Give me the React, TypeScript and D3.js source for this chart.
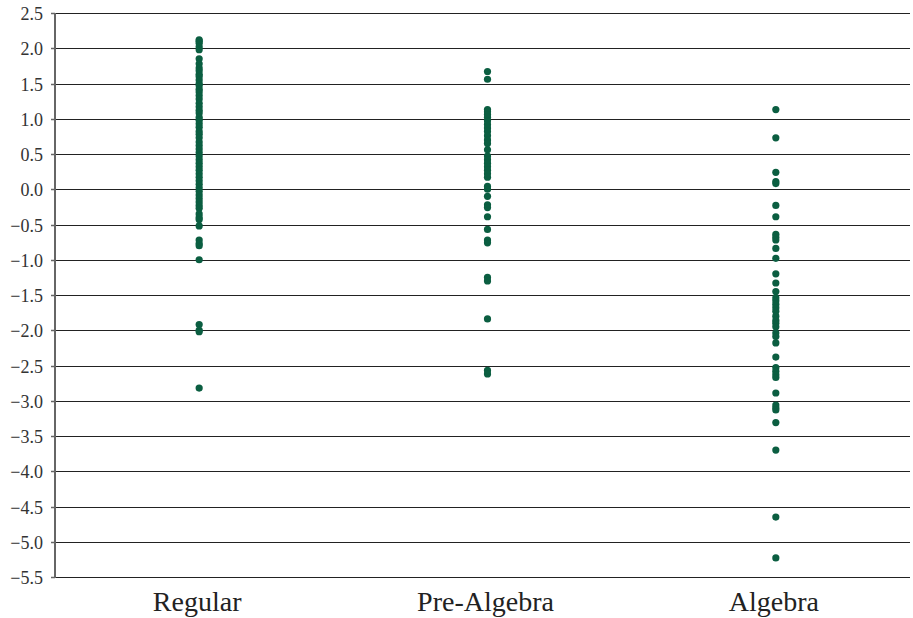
import React from 'react';
import * as d3 from 'd3';

const categories = ['Regular', 'Pre-Algebra', 'Algebra'];

const regular = [
  2.12, 2.1, 2.07, 2.02, 1.98, 1.85, 1.78, 1.72, 1.68, 1.63, 1.6, 1.55, 1.5, 1.47,
  1.42, 1.38, 1.33, 1.28, 1.22, 1.17, 1.12, 1.08, 1.02, 0.98, 0.93, 0.88, 0.82,
  0.78, 0.73, 0.67, 0.62, 0.57, 0.52, 0.47, 0.42, 0.37, 0.32, 0.27, 0.22, 0.17,
  0.12, 0.07, 0.02, -0.03, -0.08, -0.13, -0.18, -0.23, -0.27, -0.35, -0.4, -0.43,
  -0.52, -0.72, -0.77, -0.8, -1.0, -1.92, -2.0, -2.02, -2.82
];

const preAlgebra = [
  1.67, 1.56, 1.13, 1.1, 1.06, 1.02, 0.97, 0.92, 0.87, 0.82, 0.76, 0.7, 0.65,
  0.56, 0.47, 0.42, 0.37, 0.32, 0.27, 0.22, 0.17, 0.04, 0.0, -0.1, -0.22, -0.26,
  -0.39, -0.57, -0.72, -0.76, -1.25, -1.3, -1.84, -2.57, -2.62
];

const algebra = [
  1.13, 0.73, 0.24, 0.11, 0.08, -0.23, -0.39, -0.64, -0.68, -0.72, -0.84, -0.98,
  -1.2, -1.33, -1.45, -1.54, -1.58, -1.63, -1.68, -1.73, -1.8, -1.86, -1.9,
  -1.95, -2.04, -2.09, -2.18, -2.38, -2.53, -2.58, -2.63, -2.67, -2.89, -3.06,
  -3.1, -3.13, -3.31, -3.7, -4.65, -5.23
];

const seriesValues = [regular, preAlgebra, algebra];

const yTicks = d3.range(-5.5, 2.51, 0.5);

const width = 913;
const height = 618;
const margin = { top: 13, right: 3, bottom: 41, left: 55 };

export default function App() {
  const x = d3.scaleBand()
    .domain(categories)
    .range([margin.left, width + 7]);

  const y = d3.scaleLinear()
    .domain([-5.5, 2.5])
    .range([height - margin.bottom, margin.top]);

  const plotRight = width - margin.right;

  return (
    <div style={{ position: 'absolute', left: 0, top: 0 }}>
      <svg width={width} height={height} style={{ display: 'block', background: '#fff' }}>
        {/* grid lines */}
        {yTicks.map(t => (
          <line
            key={'g' + t}
            x1={margin.left}
            x2={plotRight}
            y1={Math.round(y(t)) + 0.5}
            y2={Math.round(y(t)) + 0.5}
            stroke="#222"
            strokeWidth={1}
          />
        ))}
        {/* y axis */}
        <line
          x1={margin.left}
          x2={margin.left}
          y1={y(2.5)}
          y2={y(-5.5) + 1}
          stroke="#666"
          strokeWidth={2}
        />
        {yTicks.map(t => (
          <g key={'t' + t} transform={`translate(0, ${Math.round(y(t)) + 0.5})`}>
            <line x1={margin.left - 4} x2={margin.left} stroke="#666" strokeWidth={1.5} />
            <text
              x={margin.left - 12}
              dy="0.36em"
              textAnchor="end"
              fontFamily="'Liberation Serif', serif"
              fontSize={18}
              fill="#333"
            >
              {d3.format('.1f')(t)}
            </text>
          </g>
        ))}
        {/* points */}
        {seriesValues.map((vals, i) => (
          <g key={categories[i]} fill="#0b5e41">
            {vals.map((v, j) => (
              <circle
                key={j}
                cx={(x(categories[i]) as number) + x.bandwidth() / 2}
                cy={y(v)}
                r={3.6}
              />
            ))}
          </g>
        ))}
        {/* category labels */}
        {categories.map(c => (
          <text
            key={c}
            x={(x(c) as number) + x.bandwidth() / 2 - 2}
            y={611}
            textAnchor="middle"
            fontFamily="'Liberation Serif', serif"
            fontSize={28}
            fill="#222"
          >
            {c}
          </text>
        ))}
      </svg>
    </div>
  );
}
